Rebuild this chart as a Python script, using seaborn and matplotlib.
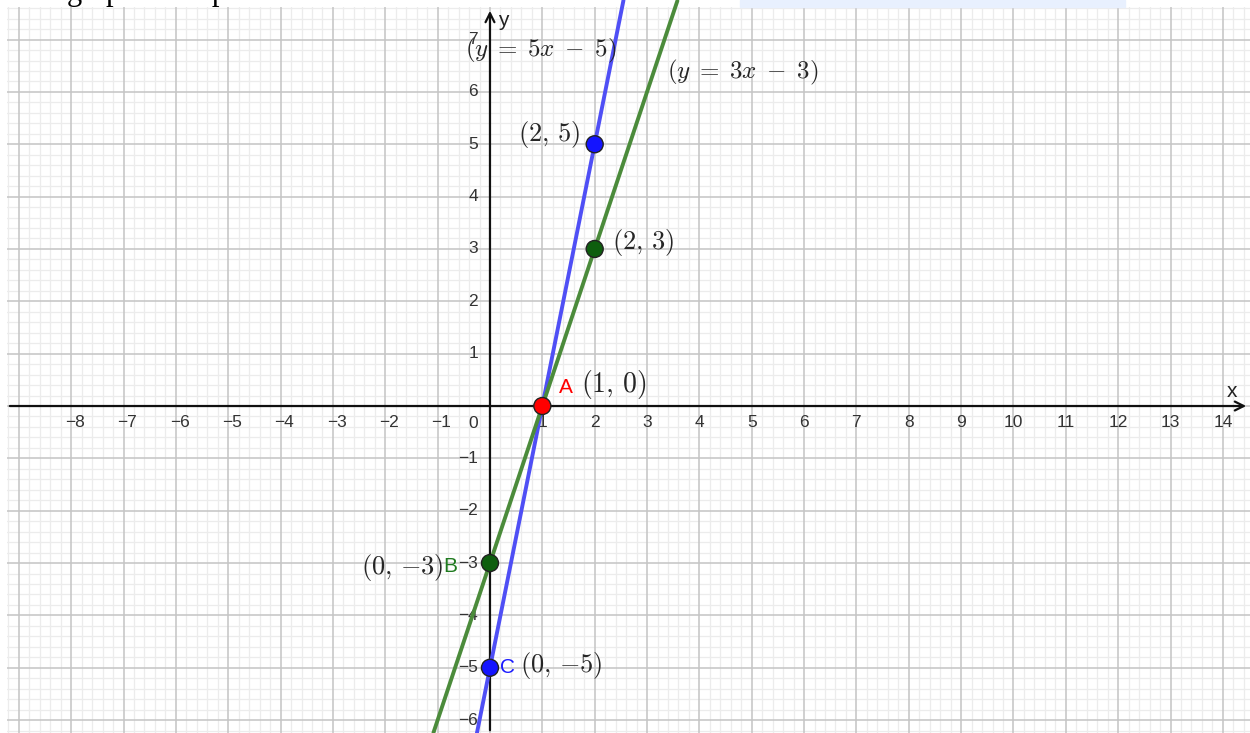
import numpy as np
import pandas as pd
import matplotlib
matplotlib.use("Agg")
import matplotlib.pyplot as plt
from matplotlib.patches import Rectangle
import seaborn as sns

sns.set_style("white")
plt.rcParams['font.family'] = ['Liberation Sans', 'DejaVu Sans']
plt.rcParams['mathtext.fontset'] = 'cm'

# lines y = m*x + b, drawn between the x where they leave the view
line_names = ['y = 5x - 5', 'y = 3x - 3']
slopes = [5, 3]
intercepts = [-5, -3]
line_x_start = [-0.25, -1.08]
line_x_end = [2.55, 3.58]
line_colors = ['#4f4ff5', '#4b8b3b']

# marked points
pt_x = [1, 0, 0, 2, 2]
pt_y = [0, -3, -5, 5, 3]
pt_colors = ['#ff0000', '#0e5e0e', '#1414ff', '#1414ff', '#0e5e0e']

x_ticks = [t for t in range(-8, 15) if t != 0]
y_ticks = [t for t in range(-6, 8) if t != 0]

# view, in data units (GeoGebra style, equal scale)
x_min, x_max = -9.226, 14.518
y_min, y_max = -6.246, 7.622

fig = plt.figure(figsize=(12.5, 7.33), dpi=100)
ax = fig.add_axes([7 / 1250, 0, 1243 / 1250, 726 / 733])

# grid: major every 1, minor every 0.2
for v in np.arange(np.ceil(x_min / 0.2) * 0.2, x_max, 0.2):
    major = abs(v - round(v)) < 1e-6
    ax.axvline(v, color='#c4c4c4' if major else '#ececec', lw=1.1 if major else 0.9, zorder=1 if major else 0)
for v in np.arange(np.ceil(y_min / 0.2) * 0.2, y_max, 0.2):
    major = abs(v - round(v)) < 1e-6
    ax.axhline(v, color='#c4c4c4' if major else '#ececec', lw=1.1 if major else 0.9, zorder=1 if major else 0)

# axes with arrows
ax.annotate('', xy=(x_max - 0.02, 0), xytext=(x_min, 0),
            arrowprops=dict(arrowstyle='->', lw=1.6, color='#111111', mutation_scale=16), zorder=3)
ax.annotate('', xy=(0, y_max - 0.02), xytext=(0, y_min),
            arrowprops=dict(arrowstyle='->', lw=1.6, color='#111111', mutation_scale=16), zorder=3)
ax.text(x_max - 0.35, 0.27, 'x', fontsize=15, color='#222222', ha='center', va='center')
ax.text(0.25, 7.37, 'y', fontsize=15, color='#222222', ha='center', va='center')

for t in x_ticks:
    ax.text(t + (0.07 if t < 0 else 0), -0.31, str(t).replace('-', '\u2212'), fontsize=12.5,
            color='#333333', ha='center', va='center')
ax.text(-0.23, -0.33, '0', fontsize=12.5, color='#333333', ha='right', va='center')
for t in y_ticks:
    ax.text(-0.23, t, str(t).replace('-', '\u2212'), fontsize=12.5,
            color='#333333', ha='right', va='center')

# lines
rows = []
for name, m, b, x0, x1 in zip(line_names, slopes, intercepts, line_x_start, line_x_end):
    for xv in (x0, x1):
        rows.append({'line': name, 'x': xv, 'y': m * xv + b})
lines_df = pd.DataFrame(rows)
sns.lineplot(data=lines_df, x='x', y='y', hue='line', palette=line_colors,
             linewidth=2.8, legend=False, ax=ax, zorder=4, sort=False)
for ln in ax.get_lines()[-2:]:
    ln.set_clip_on(False)

# points
pts_df = pd.DataFrame({'x': pt_x, 'y': pt_y, 'c': [str(i) for i in range(len(pt_x))]})
sns.scatterplot(data=pts_df, x='x', y='y', hue='c', palette=pt_colors, s=150,
                edgecolor='#222222', linewidth=1.0, legend=False, ax=ax, zorder=6)

# labels
ax.text(-0.48, 6.8, r'$(y\;=\;5x\;-\;5)$', fontsize=18, ha='left', va='center', zorder=7)
ax.text(3.38, 6.38, r'$(y\;=\;3x\;-\;3)$', fontsize=18, ha='left', va='center', zorder=7)
ax.text(0.53, 5.18, r'$(2,\,5)$', fontsize=19, ha='left', va='center', zorder=7)
ax.text(2.33, 3.13, r'$(2,\,3)$', fontsize=19, ha='left', va='center', zorder=7)
ax.text(1.32, 0.36, 'A', fontsize=15, color='#ff0000', ha='left', va='center', zorder=7)
ax.text(1.74, 0.42, r'$(1,\,0)$', fontsize=20, ha='left', va='center', zorder=7)
ax.text(-2.46, -3.09, r'$(0,\,{-3})$', fontsize=19, ha='left', va='center', zorder=7)
ax.text(-0.9, -3.07, 'B', fontsize=15, color='#1f7a1f', ha='left', va='center', zorder=7)
ax.text(0.19, -5.0, 'C', fontsize=15, color='#1a1aff', ha='left', va='center', zorder=7)
ax.text(0.57, -4.95, r'$(0,\,{-5})$', fontsize=19, ha='left', va='center', zorder=7)

ax.set_xlim(x_min, x_max)
ax.set_ylim(y_min, y_max)
ax.set_xticks([])
ax.set_yticks([])
ax.set_xlabel('')
ax.set_ylabel('')
for s in ax.spines.values():
    s.set_visible(False)

# the cut-off sentence above the graph
fig.patches.append(Rectangle((740 / 1250, 1 - 7 / 733), 385 / 1250, 7 / 733,
                             transform=fig.transFigure, color='#e8f0fe', zorder=0))
fig.text(12 / 1250, 1 + 0.5 / 733, 'The graphical representation of the two lines will be as follows:',
         family='Liberation Serif', fontsize=22, ha='left', va='baseline', color='black')

fig.savefig('out.png', dpi=100)
